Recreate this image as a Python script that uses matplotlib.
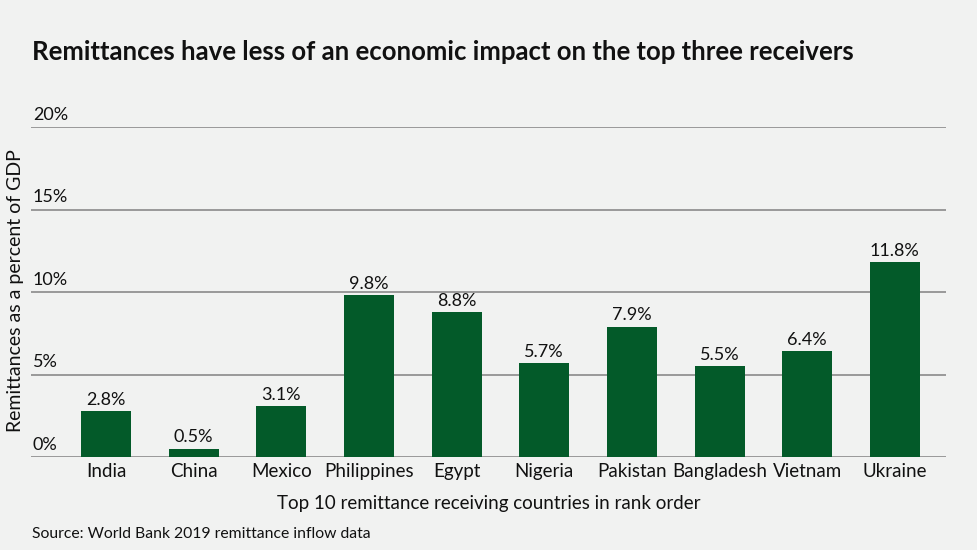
import matplotlib
matplotlib.use("Agg")
import matplotlib.pyplot as plt

countries = ["India", "China", "Mexico", "Philippines", "Egypt", "Nigeria",
             "Pakistan", "Bangladesh", "Vietnam", "Ukraine"]
values = [2.8, 0.5, 3.1, 9.8, 8.8, 5.7, 7.9, 5.5, 6.4, 11.8]
yticks = [0, 5, 10, 15, 20]
ytick_labels = ["0%", "5%", "10%", "15%", "20%"]

bg = "#f1f2f1"
bar_color = "#035a29"
plt.rcParams['font.family'] = ['Lato', 'DejaVu Sans']

fig = plt.figure(figsize=(9.78, 5.5), dpi=100, facecolor=bg)
ax = fig.add_axes([0.0317, 0.169, 0.9353, 0.600])
ax.set_facecolor(bg)

x = list(range(len(countries)))
ax.bar(x, values, width=0.57, color=bar_color, zorder=3)
for xi, v in zip(x, values):
    ax.text(xi, v + 0.2, f"{v}%", ha="center", va="bottom", fontsize=13, color="#111111")

ax.set_xlim(-0.855, 9.58)
ax.set_ylim(0, 20)
for t, lab in zip(yticks, ytick_labels):
    ax.axhline(t, color="#8a8a8a", lw=1.2, zorder=1)
    ax.text(-0.835, t + 0.25, lab, ha="left", va="bottom", fontsize=13, color="#111111")

ax.set_yticks([])
ax.set_xticks(x)
ax.set_xticklabels(countries, fontsize=13.5, color="#111111")
ax.tick_params(axis="x", length=0, pad=4)
for s in ax.spines.values():
    s.set_visible(False)

ax.set_xlabel("Top 10 remittance receiving countries in rank order", fontsize=13.5,
              color="#111111", labelpad=11)
fig.text(0.0155, 0.472, "Remittances as a percent of GDP", rotation=90,
         ha="center", va="center", fontsize=14, color="#111111")
fig.text(0.033, 0.905, "Remittances have less of an economic impact on the top three receivers",
         fontsize=18.5, fontweight="bold", color="#111111", ha="left", va="center")
fig.text(0.033, 0.03, "Source: World Bank 2019 remittance inflow data",
         fontsize=11.3, color="#111111", ha="left", va="center")

fig.savefig("out.png", dpi=100, facecolor=bg)
